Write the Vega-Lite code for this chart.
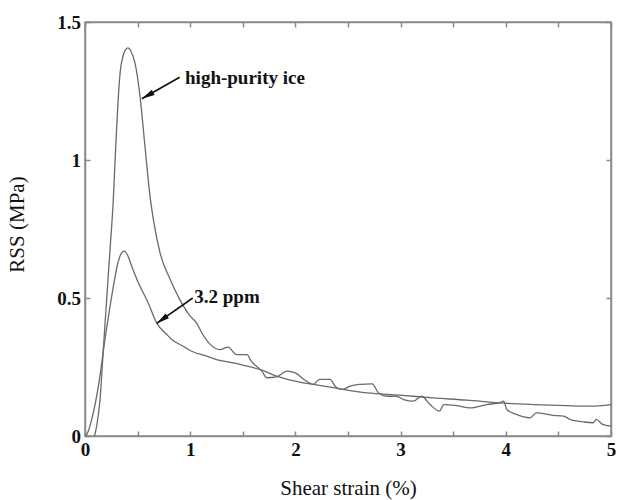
{
  "$schema": "https://vega.github.io/schema/vega-lite/v6.json",
  "width": 526,
  "height": 414,
  "autosize": {"type": "none"},
  "padding": {"left": 85, "top": 22, "right": 6, "bottom": 64},
  "background": "white",
  "config": {
    "view": {"stroke": "#8a8a8a", "strokeWidth": 1.5},
    "axis": {
      "grid": false,
      "domainColor": "#8a8a8a",
      "domainWidth": 1.5,
      "tickColor": "#8a8a8a",
      "tickWidth": 1.5,
      "tickSize": -5,
      "labelFont": "Liberation Serif",
      "labelFontWeight": "bold",
      "labelFontSize": 19,
      "labelColor": "#111111",
      "titleFont": "Liberation Serif",
      "titleFontWeight": "normal",
      "titleFontSize": 21,
      "titleColor": "#111111",
      "labelFlush": false
    }
  },
  "datasets": {
    "curves": [
      {"sample": "high-purity ice", "strain": 0.09, "rss": 0.0},
      {"sample": "high-purity ice", "strain": 0.111, "rss": 0.036},
      {"sample": "high-purity ice", "strain": 0.143, "rss": 0.132},
      {"sample": "high-purity ice", "strain": 0.174, "rss": 0.313},
      {"sample": "high-purity ice", "strain": 0.206, "rss": 0.495},
      {"sample": "high-purity ice", "strain": 0.238, "rss": 0.676},
      {"sample": "high-purity ice", "strain": 0.269, "rss": 0.857},
      {"sample": "high-purity ice", "strain": 0.285, "rss": 0.99},
      {"sample": "high-purity ice", "strain": 0.3, "rss": 1.11},
      {"sample": "high-purity ice", "strain": 0.317, "rss": 1.23},
      {"sample": "high-purity ice", "strain": 0.335, "rss": 1.32},
      {"sample": "high-purity ice", "strain": 0.36, "rss": 1.375},
      {"sample": "high-purity ice", "strain": 0.385, "rss": 1.4},
      {"sample": "high-purity ice", "strain": 0.41, "rss": 1.406},
      {"sample": "high-purity ice", "strain": 0.435, "rss": 1.395},
      {"sample": "high-purity ice", "strain": 0.475, "rss": 1.352},
      {"sample": "high-purity ice", "strain": 0.523, "rss": 1.231},
      {"sample": "high-purity ice", "strain": 0.57, "rss": 1.05},
      {"sample": "high-purity ice", "strain": 0.618, "rss": 0.869},
      {"sample": "high-purity ice", "strain": 0.65, "rss": 0.784},
      {"sample": "high-purity ice", "strain": 0.713, "rss": 0.664},
      {"sample": "high-purity ice", "strain": 0.81, "rss": 0.567},
      {"sample": "high-purity ice", "strain": 0.9, "rss": 0.495},
      {"sample": "high-purity ice", "strain": 1.0, "rss": 0.434},
      {"sample": "high-purity ice", "strain": 1.06, "rss": 0.41},
      {"sample": "high-purity ice", "strain": 1.11, "rss": 0.374},
      {"sample": "high-purity ice", "strain": 1.19, "rss": 0.332},
      {"sample": "high-purity ice", "strain": 1.28, "rss": 0.313},
      {"sample": "high-purity ice", "strain": 1.36, "rss": 0.322},
      {"sample": "high-purity ice", "strain": 1.44, "rss": 0.295},
      {"sample": "high-purity ice", "strain": 1.54, "rss": 0.295},
      {"sample": "high-purity ice", "strain": 1.58, "rss": 0.271},
      {"sample": "high-purity ice", "strain": 1.63, "rss": 0.253},
      {"sample": "high-purity ice", "strain": 1.68, "rss": 0.235},
      {"sample": "high-purity ice", "strain": 1.73, "rss": 0.211},
      {"sample": "high-purity ice", "strain": 1.82, "rss": 0.214},
      {"sample": "high-purity ice", "strain": 1.92, "rss": 0.235},
      {"sample": "high-purity ice", "strain": 2.0, "rss": 0.229},
      {"sample": "high-purity ice", "strain": 2.08, "rss": 0.205},
      {"sample": "high-purity ice", "strain": 2.17, "rss": 0.187},
      {"sample": "high-purity ice", "strain": 2.23, "rss": 0.205},
      {"sample": "high-purity ice", "strain": 2.33, "rss": 0.205},
      {"sample": "high-purity ice", "strain": 2.39, "rss": 0.175},
      {"sample": "high-purity ice", "strain": 2.45, "rss": 0.169},
      {"sample": "high-purity ice", "strain": 2.52, "rss": 0.181},
      {"sample": "high-purity ice", "strain": 2.61, "rss": 0.187},
      {"sample": "high-purity ice", "strain": 2.73, "rss": 0.189},
      {"sample": "high-purity ice", "strain": 2.79, "rss": 0.156},
      {"sample": "high-purity ice", "strain": 2.87, "rss": 0.144},
      {"sample": "high-purity ice", "strain": 2.96, "rss": 0.144},
      {"sample": "high-purity ice", "strain": 3.03, "rss": 0.132},
      {"sample": "high-purity ice", "strain": 3.12, "rss": 0.126},
      {"sample": "high-purity ice", "strain": 3.2, "rss": 0.144},
      {"sample": "high-purity ice", "strain": 3.28, "rss": 0.114},
      {"sample": "high-purity ice", "strain": 3.37, "rss": 0.09},
      {"sample": "high-purity ice", "strain": 3.41, "rss": 0.114},
      {"sample": "high-purity ice", "strain": 3.53, "rss": 0.11},
      {"sample": "high-purity ice", "strain": 3.66, "rss": 0.102},
      {"sample": "high-purity ice", "strain": 3.82, "rss": 0.114},
      {"sample": "high-purity ice", "strain": 3.94, "rss": 0.12},
      {"sample": "high-purity ice", "strain": 3.98, "rss": 0.126},
      {"sample": "high-purity ice", "strain": 4.01, "rss": 0.096},
      {"sample": "high-purity ice", "strain": 4.1, "rss": 0.078},
      {"sample": "high-purity ice", "strain": 4.23, "rss": 0.066},
      {"sample": "high-purity ice", "strain": 4.29, "rss": 0.084},
      {"sample": "high-purity ice", "strain": 4.45, "rss": 0.075},
      {"sample": "high-purity ice", "strain": 4.55, "rss": 0.072},
      {"sample": "high-purity ice", "strain": 4.61, "rss": 0.06},
      {"sample": "high-purity ice", "strain": 4.74, "rss": 0.051},
      {"sample": "high-purity ice", "strain": 4.83, "rss": 0.048},
      {"sample": "high-purity ice", "strain": 4.86, "rss": 0.06},
      {"sample": "high-purity ice", "strain": 4.92, "rss": 0.042},
      {"sample": "high-purity ice", "strain": 5.0, "rss": 0.036},
      {"sample": "3.2 ppm", "strain": 0.0, "rss": 0.0},
      {"sample": "3.2 ppm", "strain": 0.016, "rss": 0.005},
      {"sample": "3.2 ppm", "strain": 0.064, "rss": 0.06},
      {"sample": "3.2 ppm", "strain": 0.127, "rss": 0.18},
      {"sample": "3.2 ppm", "strain": 0.19, "rss": 0.35},
      {"sample": "3.2 ppm", "strain": 0.254, "rss": 0.507},
      {"sample": "3.2 ppm", "strain": 0.317, "rss": 0.633},
      {"sample": "3.2 ppm", "strain": 0.345, "rss": 0.662},
      {"sample": "3.2 ppm", "strain": 0.374, "rss": 0.67},
      {"sample": "3.2 ppm", "strain": 0.405, "rss": 0.655},
      {"sample": "3.2 ppm", "strain": 0.444, "rss": 0.615},
      {"sample": "3.2 ppm", "strain": 0.507, "rss": 0.555},
      {"sample": "3.2 ppm", "strain": 0.6, "rss": 0.483},
      {"sample": "3.2 ppm", "strain": 0.681, "rss": 0.41},
      {"sample": "3.2 ppm", "strain": 0.777, "rss": 0.368},
      {"sample": "3.2 ppm", "strain": 0.824, "rss": 0.35},
      {"sample": "3.2 ppm", "strain": 0.934, "rss": 0.325},
      {"sample": "3.2 ppm", "strain": 1.014, "rss": 0.307},
      {"sample": "3.2 ppm", "strain": 1.157, "rss": 0.289},
      {"sample": "3.2 ppm", "strain": 1.25, "rss": 0.277},
      {"sample": "3.2 ppm", "strain": 1.41, "rss": 0.265},
      {"sample": "3.2 ppm", "strain": 1.54, "rss": 0.253},
      {"sample": "3.2 ppm", "strain": 1.66, "rss": 0.241},
      {"sample": "3.2 ppm", "strain": 1.82, "rss": 0.217},
      {"sample": "3.2 ppm", "strain": 2.04, "rss": 0.195},
      {"sample": "3.2 ppm", "strain": 2.17, "rss": 0.187},
      {"sample": "3.2 ppm", "strain": 2.36, "rss": 0.175},
      {"sample": "3.2 ppm", "strain": 2.68, "rss": 0.156},
      {"sample": "3.2 ppm", "strain": 2.99, "rss": 0.148},
      {"sample": "3.2 ppm", "strain": 3.31, "rss": 0.138},
      {"sample": "3.2 ppm", "strain": 3.63, "rss": 0.13},
      {"sample": "3.2 ppm", "strain": 3.94, "rss": 0.12},
      {"sample": "3.2 ppm", "strain": 4.26, "rss": 0.114},
      {"sample": "3.2 ppm", "strain": 4.58, "rss": 0.11},
      {"sample": "3.2 ppm", "strain": 4.8, "rss": 0.108},
      {"sample": "3.2 ppm", "strain": 5.0, "rss": 0.114}
    ],
    "notes": [
      {"label": "high-purity ice", "tx": 0.951, "ty": 1.274, "x": 0.9, "y": 1.3, "x2": 0.54, "y2": 1.222},
      {"label": "3.2 ppm", "tx": 1.039, "ty": 0.483, "x": 1.024, "y": 0.5, "x2": 0.681, "y2": 0.408}
    ]
  },
  "resolve": {"axis": {"x": "independent", "y": "independent"}},
  "layer": [
    {
      "data": {"name": "curves"},
      "mark": {"type": "line", "color": "#6a6a6a", "strokeWidth": 1.3, "interpolate": "monotone"},
      "encoding": {
        "x": {
          "field": "strain", "type": "quantitative",
          "scale": {"domain": [0, 5], "nice": false},
          "axis": {
            "orient": "bottom",
            "values": [0, 0.5, 1, 1.5, 2, 2.5, 3, 3.5, 4, 4.5, 5],
            "format": "~g",
            "labelExpr": "datum.value % 1 === 0 ? datum.label : ''",
            "labelPadding": 9,
            "title": "Shear strain (%)",
            "titleY": 58,
            "titleBaseline": "alphabetic",
            "titleAnchor": "middle"
          }
        },
        "y": {
          "field": "rss", "type": "quantitative",
          "scale": {"domain": [0, 1.5], "nice": false},
          "axis": {
            "orient": "left",
            "values": [0, 0.5, 1, 1.5],
            "format": "~g",
            "labelPadding": 9.5,
            "title": "RSS (MPa)",
            "titleAngle": -90,
            "titleX": -62,
            "titleY": 202,
            "titleAlign": "center",
            "titleBaseline": "alphabetic"
          }
        },
        "detail": {"field": "sample", "type": "nominal"}
      }
    },
    {
      "data": {"name": "curves"},
      "mark": {"type": "line", "strokeOpacity": 0},
      "encoding": {
        "x": {
          "field": "strain", "type": "quantitative",
          "axis": {"orient": "top", "values": [0, 0.5, 1, 1.5, 2, 2.5, 3, 3.5, 4, 4.5, 5], "labels": false, "title": null}
        },
        "y": {
          "field": "rss", "type": "quantitative",
          "axis": {"orient": "right", "values": [0, 0.5, 1, 1.5], "labels": false, "title": null}
        },
        "detail": {"field": "sample", "type": "nominal"}
      }
    },
    {
      "data": {"name": "notes"},
      "mark": {"type": "rule", "color": "#111111", "strokeWidth": 1.6},
      "encoding": {
        "x": {"field": "x", "type": "quantitative", "axis": null},
        "y": {"field": "y", "type": "quantitative", "axis": null},
        "x2": {"field": "x2"},
        "y2": {"field": "y2"}
      }
    },
    {
      "data": {"name": "notes"},
      "transform": [{"filter": "datum.label === 'high-purity ice'"}],
      "mark": {"type": "point", "shape": "M0,0L0.45,2L-0.45,2Z", "filled": true, "color": "#111111", "opacity": 1, "size": 169, "angle": 241},
      "encoding": {
        "x": {"field": "x2", "type": "quantitative", "axis": null},
        "y": {"field": "y2", "type": "quantitative", "axis": null}
      }
    },
    {
      "data": {"name": "notes"},
      "transform": [{"filter": "datum.label === '3.2 ppm'"}],
      "mark": {"type": "point", "shape": "M0,0L0.45,2L-0.45,2Z", "filled": true, "color": "#111111", "opacity": 1, "size": 169, "angle": 234.5},
      "encoding": {
        "x": {"field": "x2", "type": "quantitative", "axis": null},
        "y": {"field": "y2", "type": "quantitative", "axis": null}
      }
    },
    {
      "data": {"name": "notes"},
      "mark": {"type": "text", "align": "left", "baseline": "alphabetic", "font": "Liberation Serif", "fontWeight": "bold", "fontSize": 19, "color": "#111111"},
      "encoding": {
        "x": {"field": "tx", "type": "quantitative", "axis": null},
        "y": {"field": "ty", "type": "quantitative", "axis": null},
        "text": {"field": "label"}
      }
    }
  ]
}
